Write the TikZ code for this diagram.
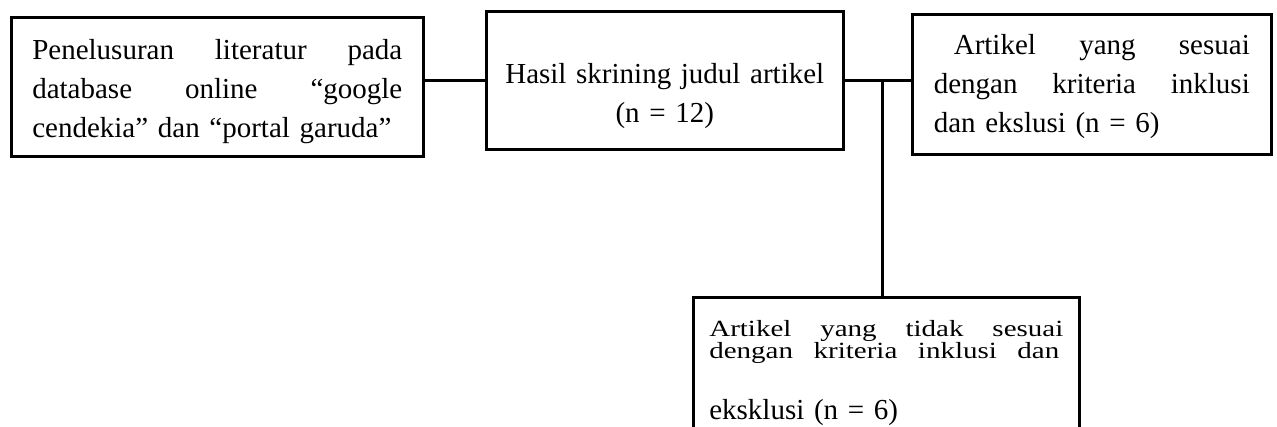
\documentclass[tikz,border=0pt]{standalone}
\usepackage{fontspec}
\setmainfont{Liberation Serif}
\begin{document}
\begin{tikzpicture}[x=0.5pt, y=-0.5pt, line width=1.3pt,
	box/.style={draw, anchor=north west, inner ysep=0pt, font=\fontsize{14.5}{19.5}\selectfont}]
	\clip (0,0) rectangle (1277,427);
	\node[box, align=left, text width=185pt, inner xsep=10.5pt, text height=21pt, text depth=48.5pt] (cari) at (10,16)
	{Penelusuran\hfill literatur\hfill pada\\database\hfill online\hfill “google\\cendekia” dan “portal garuda”};
	\node[box, align=center, text width=165pt, inner xsep=6.75pt, text height=36pt, text depth=33pt] (skrining) at (485,10)
	{Hasil skrining judul artikel\\(n = 12)};
	\node[box, align=left, text width=158pt, inner xsep=10.75pt, text height=20pt, text depth=50pt] (sesuai) at (911,13)
	{\hspace*{10pt}Artikel\hfill yang\hfill sesuai\\dengan\hfill kriteria\hfill inklusi\\dan ekslusi (n = 6)};
	\node[box, align=left, text width=177pt, inner xsep=8pt, text height=19.5pt, text depth=52.5pt] (tidak) at (692,296)
	{\scalebox{1}[0.8]{\hbox to 177pt{Artikel\hfill yang\hfill tidak\hfill sesuai}}\\[-8.5pt]
	\scalebox{1}[0.8]{\hbox to 175pt{dengan\hfill kriteria\hfill inklusi\hfill dan}}\\[11pt]
	eksklusi (n = 6)};
	\draw (cari.east |- skrining.west) -- (skrining.west);
	\draw (skrining.east) -- (skrining.east -| sesuai.west);
	\draw ([xshift=-2pt]tidak.north) -- ([xshift=-2pt]tidak.north |- skrining.east);
\end{tikzpicture}
\end{document}
